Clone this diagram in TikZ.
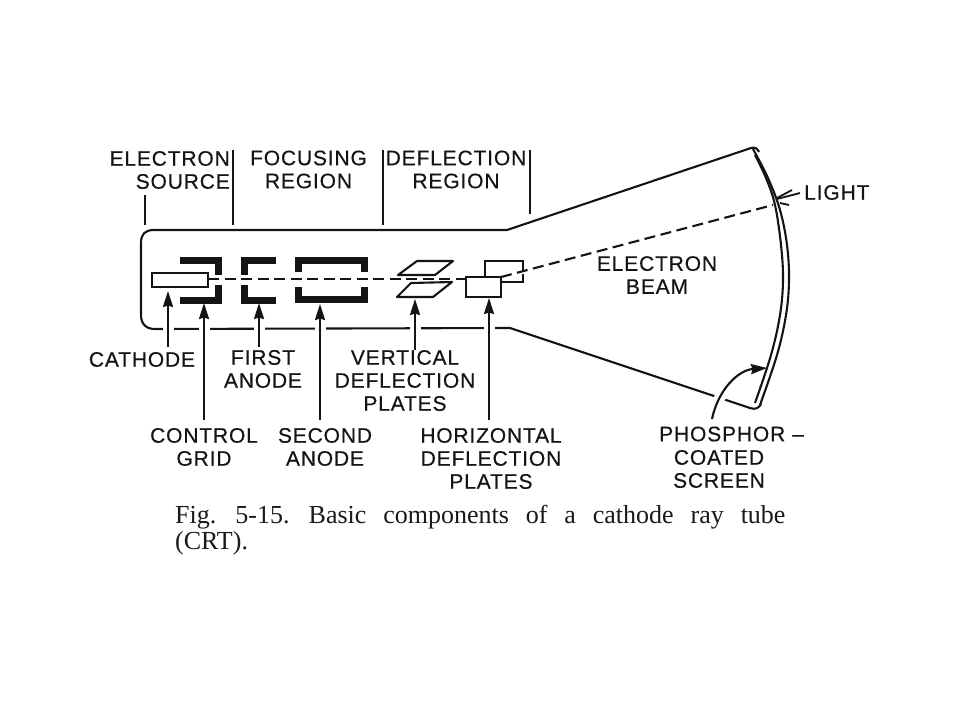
\documentclass[tikz,border=0pt]{standalone}
\usepackage{fontspec}
\usetikzlibrary{arrows.meta}
\newfontfamily\labfont[LetterSpace=4,FakeBold=0.4]{Liberation Sans}
\newfontfamily\capfont[WordSpace=2.6]{Liberation Serif}
\tikzset{
  x=1pt,y=-1pt,
  ink/.style={draw=black!92,line width=2.1pt},
  thin ink/.style={draw=black!92,line width=1.8pt},
  electrode/.style={draw=black!92,line width=7pt,miter limit=10},
  beam/.style={draw=black!92,line width=2.1pt,dash pattern=on 11pt off 5.5pt},
  pointer/.style={draw=black!92,line width=2.1pt,-{Stealth[length=16pt,width=10pt,inset=1.5pt]},
    preaction={draw=white,line width=11pt,-}},
  lab/.style={font=\labfont\fontsize{21}{23}\selectfont,text=black!92,inner sep=0pt,align=center},
  capt/.style={font=\capfont\fontsize{26}{26}\selectfont,text=black!90,inner sep=0pt,align=left,anchor=north west}
}
\begin{document}
\begin{tikzpicture}
\useasboundingbox (0,0) rectangle (960,720);
% region ticks
\coordinate (t1a) at (145,195); \coordinate (t1b) at (145,225);
\coordinate (t2a) at (233,150); \coordinate (t2b) at (233,225);
\coordinate (t3a) at (383,150); \coordinate (t3b) at (383,225);
\coordinate (t4a) at (530,150); \coordinate (t4b) at (530,214);
\draw[ink] (t1a)--(t1b); \draw[ink] (t2a)--(t2b); \draw[ink] (t3a)--(t3b); \draw[ink] (t4a)--(t4b);
% tube outline
\draw[ink,line join=round] (751,148) -- (507,230) -- (154,230) .. controls (145,230) and (141,234) .. (141,243)
  -- (141,315) .. controls (141,324) and (146,329) .. (155,329) -- (510,328) -- (750,408) .. controls (755,410) and (759,408) .. (761,404);
\draw[ink] (751,148) .. controls (755,147) and (757,148) .. (759,152);
% pointers
\coordinate (pa1) at (168,347); \coordinate (pb1) at (168,291);
\coordinate (pa2) at (204,420); \coordinate (pb2) at (204,303);
\coordinate (pa3) at (259,347); \coordinate (pb3) at (259,303);
\coordinate (pa4) at (320,420); \coordinate (pb4) at (320,304);
\coordinate (pa5) at (415,350); \coordinate (pb5) at (415,299);
\coordinate (pa6) at (489,420); \coordinate (pb6) at (489,298);
\coordinate (pa7) at (712,419); \coordinate (pb7) at (767,368);
\draw[pointer] (pa1)--(pb1); \draw[pointer] (pa2)--(pb2); \draw[pointer] (pa3)--(pb3);
\draw[pointer] (pa4)--(pb4); \draw[pointer] (pa5)--(pb5); \draw[pointer] (pa6)--(pb6);
\draw[pointer] (pa7) .. controls (718,390) and (738,370) .. (pb7);
% beam
\coordinate (b0) at (208,279); \coordinate (b1) at (466,279);
\coordinate (b2) at (501,277); \coordinate (b3) at (773,205);
\draw[beam] (b0)--(b1); \draw[beam] (b2)--(b3);
% electrodes
\draw[electrode] (180,260)--(218.5,260)--(218.5,275);
\draw[electrode] (180,300)--(218.5,300)--(218.5,285);
\draw[electrode] (276,260)--(244.5,260)--(244.5,275);
\draw[electrode] (276,300)--(244.5,300)--(244.5,285);
\draw[electrode] (298.5,272)--(298.5,260.5)--(364.5,260.5)--(364.5,272);
\draw[electrode] (298.5,287)--(298.5,299.5)--(364.5,299.5)--(364.5,287);
% cathode
\node[ink,fill=white,minimum width=56pt,minimum height=14pt,inner sep=0pt] (cath) at (180,280) {};
% plates
\draw[ink,line join=round] (398,275)--(417,261)--(453,261)--(435,275)--cycle;
\draw[ink,line join=round,fill=white] (397,297)--(411,283)--(452,282)--(433,297)--cycle;
\draw[ink,line join=miter] (485,277)--(485,261)--(523,261)--(523,272);
\draw[ink] (523,274)--(523,282)--(501,282);
\node[ink,fill=white,minimum width=35pt,minimum height=20pt,inner sep=0pt] (hplate) at (483.5,287) {};
% screen
\draw[ink] plot[smooth,tension=0.6] coordinates {(753,149) (768,178) (780,210) (787,245) (789,280) (786,315) (777,355) (760,405)};
\draw[ink] plot[smooth,tension=0.6] coordinates {(755,155) (766,178) (775,205) (781,245) (783,280) (780,315) (771,355) (755,403)};
% light
\coordinate (l0) at (800,193); \coordinate (l1) at (777,199);
\coordinate (l2) at (792,190); \coordinate (l3) at (777,198);
\coordinate (l4) at (789,205); \coordinate (l5) at (780,203);
\draw[thin ink] (l0)--(l1); \draw[thin ink] (l2)--(l3); \draw[thin ink] (l4)--(l5);
% labels
\node[lab,align=right,anchor=east] (lsrc) at (230,170) {ELECTRON\\SOURCE};
\node[lab] (lfoc) at (308.5,169.5) {FOCUSING\\REGION};
\node[lab] (ldef) at (456,169.5) {DEFLECTION\\REGION};
\node[lab] (lcat) at (142,359.5) {CATHODE};
\node[lab] (lfir) at (263,369) {FIRST\\ANODE};
\node[lab] (lver) at (405,380.5) {VERTICAL\\DEFLECTION\\PLATES};
\node[lab] (lgrd) at (204,447) {CONTROL\\GRID};
\node[lab] (lsec) at (325,447) {SECOND\\ANODE};
\node[lab] (lhor) at (491,458.5) {HORIZONTAL\\DEFLECTION\\PLATES};
\node[lab] (lbea) at (657,275) {ELECTRON\\BEAM};
\node[lab,align=left,anchor=west] (lpho) at (659,434) {PHOSPHOR\,\,–};
\node[lab] (lcoa) at (719,469) {COATED\\SCREEN};
\node[lab,anchor=west] (llig) at (804,192.5) {LIGHT};
\node[capt] (caption) at (175,505) {Fig. 5-15. Basic components of a cathode ray tube\\(CRT).};
\end{tikzpicture}
\end{document}
